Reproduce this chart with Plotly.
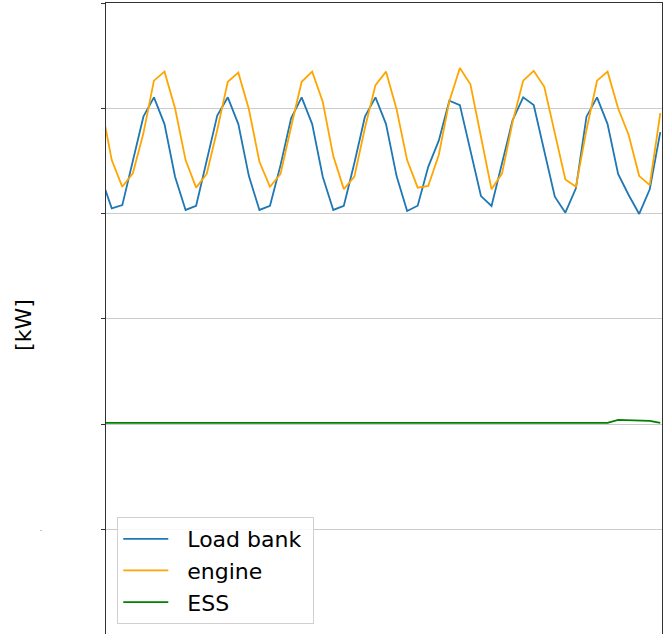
import plotly.graph_objects as go

# sample index (time step)
steps = list(range(54))

load_bank = [116.9, 102.5, 104.0, 124.9, 146.0, 155.2, 142.5,
             117.5, 101.7, 103.7, 125.4, 146.5, 155.2, 142.5,
             117.8, 101.7, 103.7, 123.0, 145.2, 155.2, 142.5,
             117.5, 101.7, 103.7, 124.0, 146.0, 155.2, 142.5,
             117.8, 101.2, 103.7, 122.2, 134.6, 153.6, 151.5,
             129.2, 108.3, 103.6, 124.0, 144.4, 155.2, 151.5,
             129.7, 108.0, 100.4, 112.0, 146.0, 155.2, 142.5,
             118.8, 108.8, 99.8, 111.5, 138.7]

engine = [151.5, 125.4, 112.7, 119.1, 138.1, 163.1, 167.4,
          150.0, 125.4, 112.3, 118.8, 139.7, 162.6, 166.9,
          149.5, 124.6, 112.7, 118.8, 141.1, 162.6, 167.4,
          153.1, 127.3, 111.6, 117.5, 140.6, 161.0, 167.4,
          149.5, 125.4, 112.3, 113.1, 127.8, 153.4, 169.1,
          161.4, 136.5, 111.5, 119.1, 143.5, 163.1, 167.8,
          160.2, 138.1, 116.2, 112.7, 139.7, 163.1, 167.4,
          150.0, 137.3, 117.8, 113.5, 147.7]

ess = [0.6] * 49 + [2.0, 1.9, 1.75, 1.5, 0.6]

series_names = ["Load bank", "engine", "ESS"]
series_colors = ["#1f77b4", "#ffa500", "#008000"]

NBSP = "\u00a0"

fig = go.Figure()
for name, vals, col in zip(series_names, [load_bank, engine, ess], series_colors):
    fig.add_trace(go.Scatter(x=steps, y=vals, mode="lines", name=NBSP * 2 + name + NBSP,
                             line=dict(color=col, width=1.8)))

fig.update_layout(
    width=664, height=634,
    margin=dict(l=106, r=2, t=3, b=0, autoexpand=False),
    paper_bgcolor="white", plot_bgcolor="white",
    font=dict(family="DejaVu Sans", color="black"),
    showlegend=True,
    legend=dict(x=0.0203, y=0.0158, xanchor="left", yanchor="bottom",
                font=dict(size=22, family="DejaVu Sans"),
                bgcolor="rgba(255,255,255,0.85)", bordercolor="#d0d0d0", borderwidth=1,
                itemwidth=45, tracegroupgap=0),
    xaxis=dict(range=[0.455, 53.16], showgrid=False, zeroline=False,
               showticklabels=False, ticks="", side="top",
               showline=True, linecolor="#333333", linewidth=1),
    yaxis=dict(range=[-99.7, 200], tick0=0, dtick=50, showgrid=True,
               gridcolor="#cccccc", gridwidth=1, zeroline=False,
               showticklabels=False, ticks="outside", ticklen=4,
               tickcolor="#333333", tickwidth=1,
               showline=True, mirror=True, linecolor="#333333", linewidth=1),
    annotations=[
        dict(text="[kW]", xref="paper", yref="paper", x=-0.1476, y=0.4897,
             xanchor="center", yanchor="middle", textangle=-90, showarrow=False,
             font=dict(size=22, family="DejaVu Sans", color="black")),
        dict(text=".", xref="paper", yref="paper", x=(41 - 106) / 555.5,
             y=(634 - 528) / 631, xanchor="center", yanchor="middle",
             showarrow=False, font=dict(size=6, color="black")),
    ],
)

fig.write_html("out.html",
               config={"displayModeBar": False},
               post_script="document.body.style.margin='0';"
                           "document.body.style.overflow='hidden';")
